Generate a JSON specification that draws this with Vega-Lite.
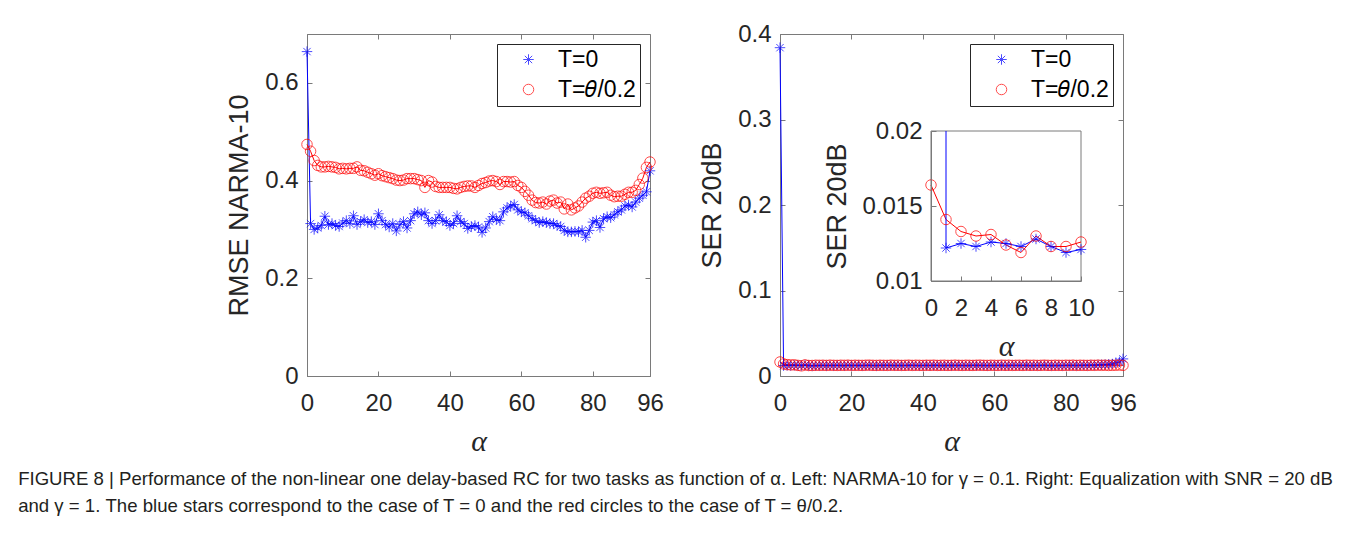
{
  "$schema": "https://vega.github.io/schema/vega-lite/v6.json",
  "background": "white",
  "padding": {"left": 18, "top": 21, "right": 10, "bottom": 10},
  "config": {
    "font": "Liberation Sans",
    "view": {"stroke": "#7a7a7a", "strokeWidth": 1},
    "axis": {
      "labelFont": "Liberation Sans", "labelFontSize": 24, "labelColor": "#262626",
      "titleFont": "Liberation Sans", "titleFontSize": 27, "titleFontWeight": "normal", "titleColor": "#262626",
      "domainColor": "#7a7a7a", "tickColor": "#7a7a7a", "grid": false, "tickSize": -5,
      "labelFlush": false, "labelOverlap": false
    },
    "legend": {
      "orient": "top-right", "offset": 10, "title": null,
      "labelFont": "Liberation Sans", "labelFontSize": 23, "labelColor": "#000000",
      "strokeColor": "#262626", "fillColor": "white", "padding": 4,
      "symbolSize": 110, "symbolStrokeWidth": 1, "rowPadding": 6,
      "symbolOffset": 16, "labelOffset": 18, "labelLimit": 300
    }
  },
  "title": {
    "text": [
      "FIGURE 8 | Performance of the non-linear one delay-based RC for two tasks as function of α. Left: NARMA-10 for γ = 0.1. Right: Equalization with SNR = 20 dB",
      "and γ = 1. The blue stars correspond to the case of T = 0 and the red circles to the case of T = θ/0.2."
    ],
    "orient": "bottom", "anchor": "start", "frame": "bounds",
    "font": "Liberation Sans", "fontSize": 18.6, "fontWeight": "normal", "color": "#231f20",
    "lineHeight": 27, "offset": 13, "dx": -207
  },
  "datasets": {
    "left": [
      {"alpha":0,"T":"T=0","value":0.664},{"alpha":1,"T":"T=0","value":0.312},{"alpha":2,"T":"T=0","value":0.300},{"alpha":3,"T":"T=0","value":0.303},{"alpha":4,"T":"T=0","value":0.308},{"alpha":5,"T":"T=0","value":0.327},{"alpha":6,"T":"T=0","value":0.310},{"alpha":7,"T":"T=0","value":0.312},{"alpha":8,"T":"T=0","value":0.308},{"alpha":9,"T":"T=0","value":0.306},
      {"alpha":10,"T":"T=0","value":0.313},{"alpha":11,"T":"T=0","value":0.318},{"alpha":12,"T":"T=0","value":0.312},{"alpha":13,"T":"T=0","value":0.328},{"alpha":14,"T":"T=0","value":0.310},{"alpha":15,"T":"T=0","value":0.316},{"alpha":16,"T":"T=0","value":0.320},{"alpha":17,"T":"T=0","value":0.314},{"alpha":18,"T":"T=0","value":0.316},{"alpha":19,"T":"T=0","value":0.310},
      {"alpha":20,"T":"T=0","value":0.332},{"alpha":21,"T":"T=0","value":0.318},{"alpha":22,"T":"T=0","value":0.310},{"alpha":23,"T":"T=0","value":0.305},{"alpha":24,"T":"T=0","value":0.312},{"alpha":25,"T":"T=0","value":0.297},{"alpha":26,"T":"T=0","value":0.310},{"alpha":27,"T":"T=0","value":0.316},{"alpha":28,"T":"T=0","value":0.303},{"alpha":29,"T":"T=0","value":0.318},
      {"alpha":30,"T":"T=0","value":0.332},{"alpha":31,"T":"T=0","value":0.336},{"alpha":32,"T":"T=0","value":0.330},{"alpha":33,"T":"T=0","value":0.334},{"alpha":34,"T":"T=0","value":0.318},{"alpha":35,"T":"T=0","value":0.312},{"alpha":36,"T":"T=0","value":0.318},{"alpha":37,"T":"T=0","value":0.330},{"alpha":38,"T":"T=0","value":0.318},{"alpha":39,"T":"T=0","value":0.316},
      {"alpha":40,"T":"T=0","value":0.308},{"alpha":41,"T":"T=0","value":0.312},{"alpha":42,"T":"T=0","value":0.328},{"alpha":43,"T":"T=0","value":0.316},{"alpha":44,"T":"T=0","value":0.312},{"alpha":45,"T":"T=0","value":0.302},{"alpha":46,"T":"T=0","value":0.306},{"alpha":47,"T":"T=0","value":0.308},{"alpha":48,"T":"T=0","value":0.305},{"alpha":49,"T":"T=0","value":0.294},
      {"alpha":50,"T":"T=0","value":0.303},{"alpha":51,"T":"T=0","value":0.316},{"alpha":52,"T":"T=0","value":0.326},{"alpha":53,"T":"T=0","value":0.320},{"alpha":54,"T":"T=0","value":0.318},{"alpha":55,"T":"T=0","value":0.336},{"alpha":56,"T":"T=0","value":0.344},{"alpha":57,"T":"T=0","value":0.348},{"alpha":58,"T":"T=0","value":0.351},{"alpha":59,"T":"T=0","value":0.340},
      {"alpha":60,"T":"T=0","value":0.336},{"alpha":61,"T":"T=0","value":0.334},{"alpha":62,"T":"T=0","value":0.328},{"alpha":63,"T":"T=0","value":0.322},{"alpha":64,"T":"T=0","value":0.318},{"alpha":65,"T":"T=0","value":0.314},{"alpha":66,"T":"T=0","value":0.316},{"alpha":67,"T":"T=0","value":0.314},{"alpha":68,"T":"T=0","value":0.312},{"alpha":69,"T":"T=0","value":0.312},
      {"alpha":70,"T":"T=0","value":0.308},{"alpha":71,"T":"T=0","value":0.306},{"alpha":72,"T":"T=0","value":0.298},{"alpha":73,"T":"T=0","value":0.295},{"alpha":74,"T":"T=0","value":0.295},{"alpha":75,"T":"T=0","value":0.296},{"alpha":76,"T":"T=0","value":0.295},{"alpha":77,"T":"T=0","value":0.298},{"alpha":78,"T":"T=0","value":0.284},{"alpha":79,"T":"T=0","value":0.298},
      {"alpha":80,"T":"T=0","value":0.315},{"alpha":81,"T":"T=0","value":0.318},{"alpha":82,"T":"T=0","value":0.304},{"alpha":83,"T":"T=0","value":0.322},{"alpha":84,"T":"T=0","value":0.326},{"alpha":85,"T":"T=0","value":0.324},{"alpha":86,"T":"T=0","value":0.330},{"alpha":87,"T":"T=0","value":0.336},{"alpha":88,"T":"T=0","value":0.340},{"alpha":89,"T":"T=0","value":0.348},
      {"alpha":90,"T":"T=0","value":0.350},{"alpha":91,"T":"T=0","value":0.346},{"alpha":92,"T":"T=0","value":0.356},{"alpha":93,"T":"T=0","value":0.364},{"alpha":94,"T":"T=0","value":0.370},{"alpha":95,"T":"T=0","value":0.377},{"alpha":96,"T":"T=0","value":0.420},
      {"alpha":0,"T":"T=𝜃/0.2","value":0.474},{"alpha":1,"T":"T=𝜃/0.2","value":0.460},{"alpha":2,"T":"T=𝜃/0.2","value":0.441},{"alpha":3,"T":"T=𝜃/0.2","value":0.431},{"alpha":4,"T":"T=𝜃/0.2","value":0.428},{"alpha":5,"T":"T=𝜃/0.2","value":0.428},{"alpha":6,"T":"T=𝜃/0.2","value":0.429},{"alpha":7,"T":"T=𝜃/0.2","value":0.428},{"alpha":8,"T":"T=𝜃/0.2","value":0.427},{"alpha":9,"T":"T=𝜃/0.2","value":0.424},
      {"alpha":10,"T":"T=𝜃/0.2","value":0.425},{"alpha":11,"T":"T=𝜃/0.2","value":0.424},{"alpha":12,"T":"T=𝜃/0.2","value":0.425},{"alpha":13,"T":"T=𝜃/0.2","value":0.425},{"alpha":14,"T":"T=𝜃/0.2","value":0.428},{"alpha":15,"T":"T=𝜃/0.2","value":0.421},{"alpha":16,"T":"T=𝜃/0.2","value":0.420},{"alpha":17,"T":"T=𝜃/0.2","value":0.417},{"alpha":18,"T":"T=𝜃/0.2","value":0.414},{"alpha":19,"T":"T=𝜃/0.2","value":0.411},
      {"alpha":20,"T":"T=𝜃/0.2","value":0.414},{"alpha":21,"T":"T=𝜃/0.2","value":0.410},{"alpha":22,"T":"T=𝜃/0.2","value":0.408},{"alpha":23,"T":"T=𝜃/0.2","value":0.406},{"alpha":24,"T":"T=𝜃/0.2","value":0.404},{"alpha":25,"T":"T=𝜃/0.2","value":0.401},{"alpha":26,"T":"T=𝜃/0.2","value":0.400},{"alpha":27,"T":"T=𝜃/0.2","value":0.401},{"alpha":28,"T":"T=𝜃/0.2","value":0.404},{"alpha":29,"T":"T=𝜃/0.2","value":0.404},
      {"alpha":30,"T":"T=𝜃/0.2","value":0.404},{"alpha":31,"T":"T=𝜃/0.2","value":0.402},{"alpha":32,"T":"T=𝜃/0.2","value":0.400},{"alpha":33,"T":"T=𝜃/0.2","value":0.386},{"alpha":34,"T":"T=𝜃/0.2","value":0.400},{"alpha":35,"T":"T=𝜃/0.2","value":0.397},{"alpha":36,"T":"T=𝜃/0.2","value":0.388},{"alpha":37,"T":"T=𝜃/0.2","value":0.386},{"alpha":38,"T":"T=𝜃/0.2","value":0.386},{"alpha":39,"T":"T=𝜃/0.2","value":0.386},
      {"alpha":40,"T":"T=𝜃/0.2","value":0.386},{"alpha":41,"T":"T=𝜃/0.2","value":0.384},{"alpha":42,"T":"T=𝜃/0.2","value":0.383},{"alpha":43,"T":"T=𝜃/0.2","value":0.386},{"alpha":44,"T":"T=𝜃/0.2","value":0.388},{"alpha":45,"T":"T=𝜃/0.2","value":0.389},{"alpha":46,"T":"T=𝜃/0.2","value":0.389},{"alpha":47,"T":"T=𝜃/0.2","value":0.386},{"alpha":48,"T":"T=𝜃/0.2","value":0.390},{"alpha":49,"T":"T=𝜃/0.2","value":0.394},
      {"alpha":50,"T":"T=𝜃/0.2","value":0.396},{"alpha":51,"T":"T=𝜃/0.2","value":0.399},{"alpha":52,"T":"T=𝜃/0.2","value":0.400},{"alpha":53,"T":"T=𝜃/0.2","value":0.398},{"alpha":54,"T":"T=𝜃/0.2","value":0.392},{"alpha":55,"T":"T=𝜃/0.2","value":0.398},{"alpha":56,"T":"T=𝜃/0.2","value":0.398},{"alpha":57,"T":"T=𝜃/0.2","value":0.397},{"alpha":58,"T":"T=𝜃/0.2","value":0.398},{"alpha":59,"T":"T=𝜃/0.2","value":0.390},
      {"alpha":60,"T":"T=𝜃/0.2","value":0.386},{"alpha":61,"T":"T=𝜃/0.2","value":0.378},{"alpha":62,"T":"T=𝜃/0.2","value":0.370},{"alpha":63,"T":"T=𝜃/0.2","value":0.360},{"alpha":64,"T":"T=𝜃/0.2","value":0.355},{"alpha":65,"T":"T=𝜃/0.2","value":0.354},{"alpha":66,"T":"T=𝜃/0.2","value":0.356},{"alpha":67,"T":"T=𝜃/0.2","value":0.352},{"alpha":68,"T":"T=𝜃/0.2","value":0.358},{"alpha":69,"T":"T=𝜃/0.2","value":0.360},
      {"alpha":70,"T":"T=𝜃/0.2","value":0.354},{"alpha":71,"T":"T=𝜃/0.2","value":0.356},{"alpha":72,"T":"T=𝜃/0.2","value":0.342},{"alpha":73,"T":"T=𝜃/0.2","value":0.352},{"alpha":74,"T":"T=𝜃/0.2","value":0.340},{"alpha":75,"T":"T=𝜃/0.2","value":0.344},{"alpha":76,"T":"T=𝜃/0.2","value":0.348},{"alpha":77,"T":"T=𝜃/0.2","value":0.356},{"alpha":78,"T":"T=𝜃/0.2","value":0.364},{"alpha":79,"T":"T=𝜃/0.2","value":0.368},
      {"alpha":80,"T":"T=𝜃/0.2","value":0.374},{"alpha":81,"T":"T=𝜃/0.2","value":0.376},{"alpha":82,"T":"T=𝜃/0.2","value":0.374},{"alpha":83,"T":"T=𝜃/0.2","value":0.375},{"alpha":84,"T":"T=𝜃/0.2","value":0.376},{"alpha":85,"T":"T=𝜃/0.2","value":0.370},{"alpha":86,"T":"T=𝜃/0.2","value":0.367},{"alpha":87,"T":"T=𝜃/0.2","value":0.368},{"alpha":88,"T":"T=𝜃/0.2","value":0.368},{"alpha":89,"T":"T=𝜃/0.2","value":0.372},
      {"alpha":90,"T":"T=𝜃/0.2","value":0.376},{"alpha":91,"T":"T=𝜃/0.2","value":0.376},{"alpha":92,"T":"T=𝜃/0.2","value":0.380},{"alpha":93,"T":"T=𝜃/0.2","value":0.392},{"alpha":94,"T":"T=𝜃/0.2","value":0.405},{"alpha":95,"T":"T=𝜃/0.2","value":0.427},{"alpha":96,"T":"T=𝜃/0.2","value":0.438}
    ],
    "right": [
      {"alpha":0,"T":"T=0","value":0.384},{"alpha":1,"T":"T=0","value":0.0122},{"alpha":2,"T":"T=0","value":0.0125},{"alpha":3,"T":"T=0","value":0.0123},{"alpha":4,"T":"T=0","value":0.0126},{"alpha":5,"T":"T=0","value":0.0125},{"alpha":6,"T":"T=0","value":0.0123},{"alpha":7,"T":"T=0","value":0.0128},{"alpha":8,"T":"T=0","value":0.0123},{"alpha":9,"T":"T=0","value":0.0119},
      {"alpha":10,"T":"T=0","value":0.0121},{"alpha":11,"T":"T=0","value":0.0122},{"alpha":12,"T":"T=0","value":0.0124},{"alpha":13,"T":"T=0","value":0.0121},{"alpha":14,"T":"T=0","value":0.0123},{"alpha":15,"T":"T=0","value":0.0122},{"alpha":16,"T":"T=0","value":0.0125},{"alpha":17,"T":"T=0","value":0.0122},{"alpha":18,"T":"T=0","value":0.0121},{"alpha":19,"T":"T=0","value":0.0124},
      {"alpha":20,"T":"T=0","value":0.0123},{"alpha":21,"T":"T=0","value":0.0122},{"alpha":22,"T":"T=0","value":0.0125},{"alpha":23,"T":"T=0","value":0.0121},{"alpha":24,"T":"T=0","value":0.0123},{"alpha":25,"T":"T=0","value":0.0124},{"alpha":26,"T":"T=0","value":0.0122},{"alpha":27,"T":"T=0","value":0.0121},{"alpha":28,"T":"T=0","value":0.0124},{"alpha":29,"T":"T=0","value":0.0123},
      {"alpha":30,"T":"T=0","value":0.0125},{"alpha":31,"T":"T=0","value":0.0122},{"alpha":32,"T":"T=0","value":0.0123},{"alpha":33,"T":"T=0","value":0.0121},{"alpha":34,"T":"T=0","value":0.0124},{"alpha":35,"T":"T=0","value":0.0122},{"alpha":36,"T":"T=0","value":0.0123},{"alpha":37,"T":"T=0","value":0.0125},{"alpha":38,"T":"T=0","value":0.0122},{"alpha":39,"T":"T=0","value":0.0121},
      {"alpha":40,"T":"T=0","value":0.0123},{"alpha":41,"T":"T=0","value":0.0124},{"alpha":42,"T":"T=0","value":0.0122},{"alpha":43,"T":"T=0","value":0.0123},{"alpha":44,"T":"T=0","value":0.0125},{"alpha":45,"T":"T=0","value":0.0122},{"alpha":46,"T":"T=0","value":0.0121},{"alpha":47,"T":"T=0","value":0.0124},{"alpha":48,"T":"T=0","value":0.0123},{"alpha":49,"T":"T=0","value":0.0122},
      {"alpha":50,"T":"T=0","value":0.0124},{"alpha":51,"T":"T=0","value":0.0123},{"alpha":52,"T":"T=0","value":0.0121},{"alpha":53,"T":"T=0","value":0.0122},{"alpha":54,"T":"T=0","value":0.0125},{"alpha":55,"T":"T=0","value":0.0123},{"alpha":56,"T":"T=0","value":0.0122},{"alpha":57,"T":"T=0","value":0.0124},{"alpha":58,"T":"T=0","value":0.0121},{"alpha":59,"T":"T=0","value":0.0123},
      {"alpha":60,"T":"T=0","value":0.0122},{"alpha":61,"T":"T=0","value":0.0124},{"alpha":62,"T":"T=0","value":0.0123},{"alpha":63,"T":"T=0","value":0.0121},{"alpha":64,"T":"T=0","value":0.0122},{"alpha":65,"T":"T=0","value":0.0125},{"alpha":66,"T":"T=0","value":0.0123},{"alpha":67,"T":"T=0","value":0.0122},{"alpha":68,"T":"T=0","value":0.0124},{"alpha":69,"T":"T=0","value":0.0123},
      {"alpha":70,"T":"T=0","value":0.0121},{"alpha":71,"T":"T=0","value":0.0122},{"alpha":72,"T":"T=0","value":0.0124},{"alpha":73,"T":"T=0","value":0.0123},{"alpha":74,"T":"T=0","value":0.0125},{"alpha":75,"T":"T=0","value":0.0122},{"alpha":76,"T":"T=0","value":0.0123},{"alpha":77,"T":"T=0","value":0.0121},{"alpha":78,"T":"T=0","value":0.0124},{"alpha":79,"T":"T=0","value":0.0122},
      {"alpha":80,"T":"T=0","value":0.0123},{"alpha":81,"T":"T=0","value":0.0125},{"alpha":82,"T":"T=0","value":0.0122},{"alpha":83,"T":"T=0","value":0.0124},{"alpha":84,"T":"T=0","value":0.0123},{"alpha":85,"T":"T=0","value":0.0126},{"alpha":86,"T":"T=0","value":0.0124},{"alpha":87,"T":"T=0","value":0.0127},{"alpha":88,"T":"T=0","value":0.0126},{"alpha":89,"T":"T=0","value":0.0129},
      {"alpha":90,"T":"T=0","value":0.0131},{"alpha":91,"T":"T=0","value":0.0133},{"alpha":92,"T":"T=0","value":0.0137},{"alpha":93,"T":"T=0","value":0.0140},{"alpha":94,"T":"T=0","value":0.0155},{"alpha":95,"T":"T=0","value":0.0165},{"alpha":96,"T":"T=0","value":0.0200},
      {"alpha":0,"T":"T=𝜃/0.2","value":0.0164},{"alpha":1,"T":"T=𝜃/0.2","value":0.0141},{"alpha":2,"T":"T=𝜃/0.2","value":0.0133},{"alpha":3,"T":"T=𝜃/0.2","value":0.0130},{"alpha":4,"T":"T=𝜃/0.2","value":0.0131},{"alpha":5,"T":"T=𝜃/0.2","value":0.0124},{"alpha":6,"T":"T=𝜃/0.2","value":0.0119},{"alpha":7,"T":"T=𝜃/0.2","value":0.0130},{"alpha":8,"T":"T=𝜃/0.2","value":0.0123},{"alpha":9,"T":"T=𝜃/0.2","value":0.0123},
      {"alpha":10,"T":"T=𝜃/0.2","value":0.0126},{"alpha":11,"T":"T=𝜃/0.2","value":0.0125},{"alpha":12,"T":"T=𝜃/0.2","value":0.0126},{"alpha":13,"T":"T=𝜃/0.2","value":0.0124},{"alpha":14,"T":"T=𝜃/0.2","value":0.0127},{"alpha":15,"T":"T=𝜃/0.2","value":0.0125},{"alpha":16,"T":"T=𝜃/0.2","value":0.0124},{"alpha":17,"T":"T=𝜃/0.2","value":0.0126},{"alpha":18,"T":"T=𝜃/0.2","value":0.0125},{"alpha":19,"T":"T=𝜃/0.2","value":0.0127},
      {"alpha":20,"T":"T=𝜃/0.2","value":0.0124},{"alpha":21,"T":"T=𝜃/0.2","value":0.0126},{"alpha":22,"T":"T=𝜃/0.2","value":0.0125},{"alpha":23,"T":"T=𝜃/0.2","value":0.0124},{"alpha":24,"T":"T=𝜃/0.2","value":0.0126},{"alpha":25,"T":"T=𝜃/0.2","value":0.0127},{"alpha":26,"T":"T=𝜃/0.2","value":0.0125},{"alpha":27,"T":"T=𝜃/0.2","value":0.0124},{"alpha":28,"T":"T=𝜃/0.2","value":0.0126},{"alpha":29,"T":"T=𝜃/0.2","value":0.0125},
      {"alpha":30,"T":"T=𝜃/0.2","value":0.0124},{"alpha":31,"T":"T=𝜃/0.2","value":0.0127},{"alpha":32,"T":"T=𝜃/0.2","value":0.0125},{"alpha":33,"T":"T=𝜃/0.2","value":0.0126},{"alpha":34,"T":"T=𝜃/0.2","value":0.0124},{"alpha":35,"T":"T=𝜃/0.2","value":0.0125},{"alpha":36,"T":"T=𝜃/0.2","value":0.0127},{"alpha":37,"T":"T=𝜃/0.2","value":0.0124},{"alpha":38,"T":"T=𝜃/0.2","value":0.0126},{"alpha":39,"T":"T=𝜃/0.2","value":0.0125},
      {"alpha":40,"T":"T=𝜃/0.2","value":0.0124},{"alpha":41,"T":"T=𝜃/0.2","value":0.0126},{"alpha":42,"T":"T=𝜃/0.2","value":0.0125},{"alpha":43,"T":"T=𝜃/0.2","value":0.0127},{"alpha":44,"T":"T=𝜃/0.2","value":0.0124},{"alpha":45,"T":"T=𝜃/0.2","value":0.0125},{"alpha":46,"T":"T=𝜃/0.2","value":0.0126},{"alpha":47,"T":"T=𝜃/0.2","value":0.0124},{"alpha":48,"T":"T=𝜃/0.2","value":0.0125},{"alpha":49,"T":"T=𝜃/0.2","value":0.0127},
      {"alpha":50,"T":"T=𝜃/0.2","value":0.0125},{"alpha":51,"T":"T=𝜃/0.2","value":0.0124},{"alpha":52,"T":"T=𝜃/0.2","value":0.0126},{"alpha":53,"T":"T=𝜃/0.2","value":0.0125},{"alpha":54,"T":"T=𝜃/0.2","value":0.0124},{"alpha":55,"T":"T=𝜃/0.2","value":0.0126},{"alpha":56,"T":"T=𝜃/0.2","value":0.0127},{"alpha":57,"T":"T=𝜃/0.2","value":0.0125},{"alpha":58,"T":"T=𝜃/0.2","value":0.0124},{"alpha":59,"T":"T=𝜃/0.2","value":0.0126},
      {"alpha":60,"T":"T=𝜃/0.2","value":0.0125},{"alpha":61,"T":"T=𝜃/0.2","value":0.0124},{"alpha":62,"T":"T=𝜃/0.2","value":0.0127},{"alpha":63,"T":"T=𝜃/0.2","value":0.0125},{"alpha":64,"T":"T=𝜃/0.2","value":0.0126},{"alpha":65,"T":"T=𝜃/0.2","value":0.0124},{"alpha":66,"T":"T=𝜃/0.2","value":0.0125},{"alpha":67,"T":"T=𝜃/0.2","value":0.0126},{"alpha":68,"T":"T=𝜃/0.2","value":0.0124},{"alpha":69,"T":"T=𝜃/0.2","value":0.0127},
      {"alpha":70,"T":"T=𝜃/0.2","value":0.0125},{"alpha":71,"T":"T=𝜃/0.2","value":0.0126},{"alpha":72,"T":"T=𝜃/0.2","value":0.0124},{"alpha":73,"T":"T=𝜃/0.2","value":0.0125},{"alpha":74,"T":"T=𝜃/0.2","value":0.0127},{"alpha":75,"T":"T=𝜃/0.2","value":0.0125},{"alpha":76,"T":"T=𝜃/0.2","value":0.0124},{"alpha":77,"T":"T=𝜃/0.2","value":0.0126},{"alpha":78,"T":"T=𝜃/0.2","value":0.0125},{"alpha":79,"T":"T=𝜃/0.2","value":0.0124},
      {"alpha":80,"T":"T=𝜃/0.2","value":0.0126},{"alpha":81,"T":"T=𝜃/0.2","value":0.0125},{"alpha":82,"T":"T=𝜃/0.2","value":0.0127},{"alpha":83,"T":"T=𝜃/0.2","value":0.0124},{"alpha":84,"T":"T=𝜃/0.2","value":0.0126},{"alpha":85,"T":"T=𝜃/0.2","value":0.0125},{"alpha":86,"T":"T=𝜃/0.2","value":0.0124},{"alpha":87,"T":"T=𝜃/0.2","value":0.0126},{"alpha":88,"T":"T=𝜃/0.2","value":0.0125},{"alpha":89,"T":"T=𝜃/0.2","value":0.0127},
      {"alpha":90,"T":"T=𝜃/0.2","value":0.0125},{"alpha":91,"T":"T=𝜃/0.2","value":0.0126},{"alpha":92,"T":"T=𝜃/0.2","value":0.0124},{"alpha":93,"T":"T=𝜃/0.2","value":0.0125},{"alpha":94,"T":"T=𝜃/0.2","value":0.0126},{"alpha":95,"T":"T=𝜃/0.2","value":0.0128},{"alpha":96,"T":"T=𝜃/0.2","value":0.0125}
    ]
  },
  "hconcat": [
    {
      "width": 343, "height": 342,
      "data": {"name": "left"},
      "layer": [
        {
          "mark": {"type": "line", "strokeWidth": 1},
          "encoding": {
            "x": {"field": "alpha", "type": "quantitative", "scale": {"domain": [0, 96], "nice": false},
                  "axis": {"orient": "top", "values": [0, 20, 40, 60, 80, 96], "labels": false, "domain": false, "title": null}},
            "y": {"field": "value", "type": "quantitative", "scale": {"domain": [0, 0.7], "nice": false},
                  "axis": {"orient": "right", "values": [0, 0.2, 0.4, 0.6], "labels": false, "domain": false, "title": null}},
            "color": {"field": "T", "type": "nominal", "scale": {"domain": ["T=0", "T=𝜃/0.2"], "range": ["#0000ff", "#ff0000"]}}
          }
        },
        {
          "mark": {"type": "point", "filled": false, "strokeWidth": 1, "size": 110},
          "encoding": {
            "x": {"field": "alpha", "type": "quantitative", "scale": {"domain": [0, 96], "nice": false},
                  "axis": {"orient": "bottom", "values": [0, 20, 40, 60, 80, 96], "title": "α", "titleFont": "Liberation Serif", "titleFontStyle": "italic", "titleFontSize": 30, "labelPadding": 20, "titlePadding": 11}},
            "y": {"field": "value", "type": "quantitative", "scale": {"domain": [0, 0.7], "nice": false},
                  "axis": {"orient": "left", "values": [0, 0.2, 0.4, 0.6], "format": "~g", "title": "RMSE NARMA-10", "labelPadding": 14, "titlePadding": 11}},
            "color": {"field": "T", "type": "nominal", "scale": {"domain": ["T=0", "T=𝜃/0.2"], "range": ["#0000ff", "#ff0000"]},
                      "legend": {"encode": {"symbols": {"shape": {"value": {"signal": "datum.value === 'T=0' ? 'M-2,0L2,0M0,-0.4L0,0.4M-0.4,0L0.4,0M-0.28,-0.28L0.28,0.28M-0.28,0.28L0.28,-0.28' : 'M-2,0L-0.5,0M0.5,0L2,0M0.5,0A0.5,0.5 0 1,1 -0.5,0A0.5,0.5 0 1,1 0.5,0'"}}}}}},
            "shape": {"field": "T", "type": "nominal", "scale": {"domain": ["T=0", "T=𝜃/0.2"], "range": ["M0,-1L0,1M-1,0L1,0M-0.7,-0.7L0.7,0.7M-0.7,0.7L0.7,-0.7", "circle"]}, "legend": null}
          }
        }
      ],
      "resolve": {"axis": {"x": "independent", "y": "independent"}}
    },
    {
      "width": 343, "height": 342,
      "data": {"name": "right"},
      "layer": [
        {
          "layer": [
            {
              "mark": {"type": "line", "strokeWidth": 1},
              "encoding": {
                "x": {"field": "alpha", "type": "quantitative", "scale": {"domain": [0, 96], "nice": false},
                      "axis": {"orient": "top", "values": [0, 20, 40, 60, 80, 96], "labels": false, "domain": false, "title": null}},
                "y": {"field": "value", "type": "quantitative", "scale": {"domain": [0, 0.4], "nice": false},
                      "axis": {"orient": "right", "values": [0, 0.1, 0.2, 0.3, 0.4], "labels": false, "domain": false, "title": null}},
                "color": {"field": "T", "type": "nominal", "scale": {"domain": ["T=0", "T=𝜃/0.2"], "range": ["#0000ff", "#ff0000"]}}
              }
            },
            {
              "mark": {"type": "point", "filled": false, "strokeWidth": 1, "size": 110},
              "encoding": {
                "x": {"field": "alpha", "type": "quantitative", "scale": {"domain": [0, 96], "nice": false},
                      "axis": {"orient": "bottom", "values": [0, 20, 40, 60, 80, 96], "title": "α", "titleFont": "Liberation Serif", "titleFontStyle": "italic", "titleFontSize": 30, "labelPadding": 20, "titlePadding": 11}},
                "y": {"field": "value", "type": "quantitative", "scale": {"domain": [0, 0.4], "nice": false},
                      "axis": {"orient": "left", "values": [0, 0.1, 0.2, 0.3, 0.4], "format": "~g", "title": "SER 20dB", "labelPadding": 14, "titlePadding": 11}},
                "color": {"field": "T", "type": "nominal", "scale": {"domain": ["T=0", "T=𝜃/0.2"], "range": ["#0000ff", "#ff0000"]},
                          "legend": {"encode": {"symbols": {"shape": {"value": {"signal": "datum.value === 'T=0' ? 'M-2,0L2,0M0,-0.4L0,0.4M-0.4,0L0.4,0M-0.28,-0.28L0.28,0.28M-0.28,0.28L0.28,-0.28' : 'M-2,0L-0.5,0M0.5,0L2,0M0.5,0A0.5,0.5 0 1,1 -0.5,0A0.5,0.5 0 1,1 0.5,0'"}}}}}},
                "shape": {"field": "T", "type": "nominal", "scale": {"domain": ["T=0", "T=𝜃/0.2"], "range": ["M0,-1L0,1M-1,0L1,0M-0.7,-0.7L0.7,0.7M-0.7,0.7L0.7,-0.7", "circle"]}, "legend": null}
              }
            }
          ],
          "resolve": {"axis": {"x": "independent", "y": "independent"}}
        },
        {
          "transform": [{"filter": "datum.alpha <= 10"}],
          "layer": [
            {
              "transform": [{"filter": "datum.alpha == 0 && datum.T == 'T=0'"}],
              "mark": {"type": "rect", "fill": "white", "stroke": "#7a7a7a", "strokeWidth": 1},
              "encoding": {
                "x": {"datum": 0, "type": "quantitative", "scale": {"domain": [0, 10], "range": [151, 301], "nice": false},
                      "axis": {"orient": "bottom", "offset": -95, "zindex": 1, "values": [0, 2, 4, 6, 8, 10], "title": "α", "titleFont": "Liberation Serif", "titleFontStyle": "italic", "titleFontSize": 30, "labelPadding": 20, "titlePadding": 11}},
                "x2": {"datum": 10},
                "y": {"datum": 0.01, "type": "quantitative", "scale": {"domain": [0.01, 0.02], "range": [247, 97], "nice": false, "zero": false},
                      "axis": {"orient": "left", "offset": -151, "zindex": 1, "values": [0.01, 0.015, 0.02], "format": "~g", "title": "SER 20dB", "labelPadding": 14, "titlePadding": 10}},
                "y2": {"datum": 0.02}
              }
            },
            {
              "transform": [{"filter": "datum.T != 'T=0' || datum.alpha >= 1"}],
              "mark": {"type": "line", "strokeWidth": 1},
              "encoding": {
                "x": {"field": "alpha", "type": "quantitative", "scale": {"domain": [0, 10], "range": [151, 301], "nice": false},
                      "axis": {"orient": "bottom", "offset": -95, "zindex": 1, "values": [0, 2, 4, 6, 8, 10], "title": "α", "titleFont": "Liberation Serif", "titleFontStyle": "italic", "titleFontSize": 30, "labelPadding": 20, "titlePadding": 11}},
                "y": {"field": "value", "type": "quantitative", "scale": {"domain": [0.01, 0.02], "range": [247, 97], "nice": false, "zero": false},
                      "axis": {"orient": "left", "offset": -151, "zindex": 1, "values": [0.01, 0.015, 0.02], "format": "~g", "title": "SER 20dB", "labelPadding": 14, "titlePadding": 10}},
                "color": {"field": "T", "type": "nominal"}
              }
            },
            {
              "transform": [{"filter": "datum.T == 'T=0' && datum.alpha == 1"}],
              "mark": {"type": "rule", "color": "#0000ff", "strokeWidth": 1},
              "encoding": {
                "x": {"field": "alpha", "type": "quantitative", "scale": {"domain": [0, 10], "range": [151, 301], "nice": false},
                      "axis": {"orient": "bottom", "offset": -95, "zindex": 1, "values": [0, 2, 4, 6, 8, 10], "title": "α", "titleFont": "Liberation Serif", "titleFontStyle": "italic", "titleFontSize": 30, "labelPadding": 20, "titlePadding": 11}},
                "y": {"field": "value", "type": "quantitative", "scale": {"domain": [0.01, 0.02], "range": [247, 97], "nice": false, "zero": false},
                      "axis": {"orient": "left", "offset": -151, "zindex": 1, "values": [0.01, 0.015, 0.02], "format": "~g", "title": "SER 20dB", "labelPadding": 14, "titlePadding": 10}},
                "y2": {"datum": 0.02}
              }
            },
            {
              "transform": [{"filter": "datum.T != 'T=0' || datum.alpha >= 1"}],
              "mark": {"type": "point", "filled": false, "strokeWidth": 1, "size": 110},
              "encoding": {
                "x": {"field": "alpha", "type": "quantitative", "scale": {"domain": [0, 10], "range": [151, 301], "nice": false},
                      "axis": {"orient": "bottom", "offset": -95, "zindex": 1, "values": [0, 2, 4, 6, 8, 10], "title": "α", "titleFont": "Liberation Serif", "titleFontStyle": "italic", "titleFontSize": 30, "labelPadding": 20, "titlePadding": 11}},
                "y": {"field": "value", "type": "quantitative", "scale": {"domain": [0.01, 0.02], "range": [247, 97], "nice": false, "zero": false},
                      "axis": {"orient": "left", "offset": -151, "zindex": 1, "values": [0.01, 0.015, 0.02], "format": "~g", "title": "SER 20dB", "labelPadding": 14, "titlePadding": 10}},
                "color": {"field": "T", "type": "nominal"},
                "shape": {"field": "T", "type": "nominal", "legend": null}
              }
            }
          ]
        }
      ],
      "resolve": {"scale": {"x": "independent", "y": "independent"}, "axis": {"x": "independent", "y": "independent"}}
    }
  ],
  "spacing": 130,
  "bounds": "flush",
  "resolve": {"scale": {"color": "independent", "shape": "independent"}, "legend": {"color": "independent", "shape": "independent"}}
}
